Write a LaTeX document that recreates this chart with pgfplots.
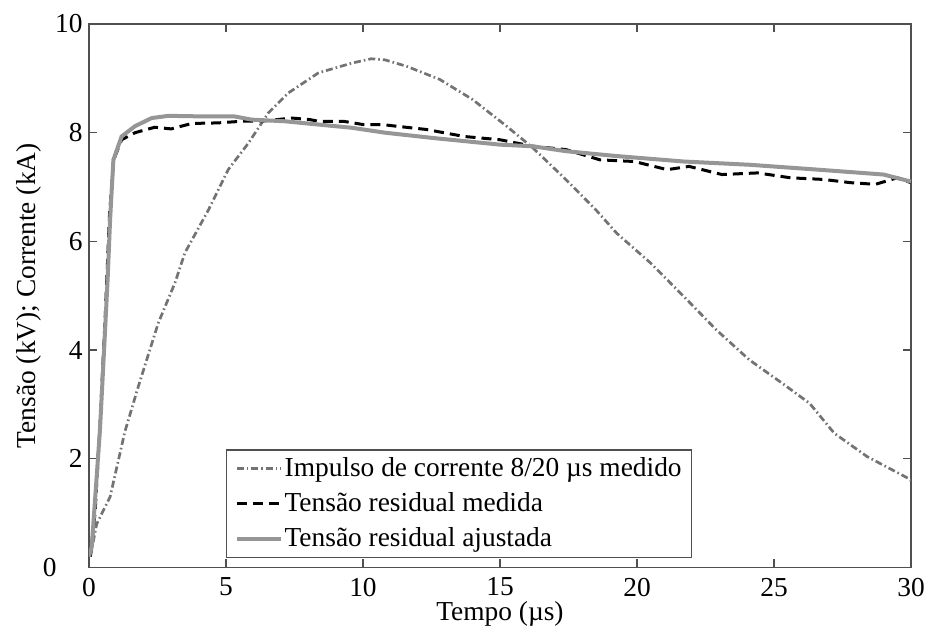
\documentclass[border=0pt]{standalone}
\usepackage{fontspec}
\setmainfont{Liberation Serif}
\usepackage{pgfplots}
\pgfplotsset{compat=1.18}
\definecolor{curgray}{RGB}{115,115,115}
\definecolor{fitgray}{RGB}{150,150,150}
\definecolor{axgray}{RGB}{80,80,80}
\begin{document}
\fontsize{13.7}{16}\selectfont
\begin{tikzpicture}
\begin{axis}[
  name=ax,
  scale only axis,
  width=411pt, height=271.75pt,
  xmin=0, xmax=30, ymin=0, ymax=10,
  xtick={0,5,10,15,20,25,30},
  ytick={2,4,6,8,10},
  extra y ticks={0},
  extra y tick style={yticklabel style={xshift=-13pt}},
  tick align=inside,
  major tick length=4pt,
  axis line style={axgray, line width=0.7pt},
  every tick/.style={axgray, line width=0.6pt},
  /pgf/number format/assume math mode=true,
  tick label style={font=\fontsize{13.7}{16}\selectfont},
  label style={font=\fontsize{13.7}{16}\selectfont},
  xticklabel style={inner sep=1pt, yshift=-4pt},
  yticklabel style={inner sep=1pt, xshift=-2pt},
  xlabel={Tempo (µs)},
  ylabel={Tensão (kV); Corrente (kA)},
  xlabel style={at={(axis description cs:0.5,0)}, anchor=north, yshift=-17pt, inner sep=0pt},
  ylabel style={at={(axis description cs:0,0.5)}, anchor=south, yshift=23.5pt, inner sep=0pt},
  legend cell align=left,
  legend style={
    at={(rel axis cs:0.1667,0.0175)}, anchor=south west,
    draw=axgray, line width=0.6pt, fill=white,
    font=\fontsize{13.7}{16}\selectfont,
    inner xsep=4pt, inner ysep=2.5pt,
    row sep=4pt,
    nodes={inner sep=1pt, anchor=west}
  },
  legend image code/.code={\draw[#1] (0pt,0pt) -- (22pt,0pt);},
]
\addplot[curgray, line width=1.35pt, dash pattern=on 3.5pt off 1.5pt on 0.8pt off 1.5pt]
coordinates {(0.05,0.2) (0.28,0.8) (0.77,1.3) (1.31,2.5) (1.8,3.33) (2.53,4.5) (3.14,5.24) (3.5,5.79) (4.36,6.58) (5.08,7.32) (5.82,7.81) (6.54,8.36) (7.27,8.73) (8.37,9.10) (9.59,9.28) (10.3,9.36) (10.8,9.34) (11.6,9.22) (12.8,8.98) (14.0,8.61) (15.24,8.12) (16.2,7.72) (17.4,7.14) (18.5,6.58) (19.26,6.15) (20.5,5.6) (21.7,4.99) (22.9,4.37) (24.1,3.82) (25.3,3.39) (26.3,3.02) (27.2,2.47) (28.4,2.04) (29.9,1.64) (30,1.6)};
\addlegendentry{Impulso de corrente 8/20 µs medido}
\addplot[black, line width=1.5pt, dash pattern=on 5pt off 3pt]
coordinates {(0.05,0.2) (0.22,1.0) (0.4,2.6) (0.6,4.7) (0.75,6.5) (0.9,7.5) (1.19,7.87) (1.68,8.0) (2.4,8.1) (3.0,8.07) (3.75,8.17) (4.7,8.18) (5.57,8.21) (6.5,8.22) (7.4,8.27) (8.07,8.24) (8.37,8.21) (9.28,8.21) (10.0,8.15) (10.7,8.15) (11.2,8.12) (12.3,8.06) (13.7,7.93) (15.0,7.87) (16.2,7.75) (17.4,7.69) (18.65,7.5) (19.9,7.47) (21.1,7.32) (21.9,7.38) (23.1,7.23) (24.4,7.26) (25.6,7.17) (26.8,7.14) (27.8,7.08) (28.7,7.05) (29.5,7.17) (30,7.08)};
\addlegendentry{Tensão residual medida}
\addplot[fitgray, line width=2pt]
coordinates {(0,0.2) (0.1,0.38) (0.4,2.53) (0.55,4.0) (0.68,5.3) (0.77,6.4) (0.89,7.5) (1.19,7.93) (1.68,8.12) (2.29,8.27) (2.9,8.31) (4.1,8.30) (5.3,8.30) (5.94,8.24) (7.15,8.21) (8.37,8.15) (9.6,8.09) (10.8,8.0) (12.6,7.9) (15.0,7.78) (16.2,7.75) (17.4,7.66) (19.26,7.57) (21.7,7.47) (24.1,7.41) (26.6,7.32) (29.0,7.23) (30,7.1)};
\addlegendentry{Tensão residual ajustada}
\end{axis}
\path ([xshift=-44.5pt,yshift=-28.75pt]ax.south west) rectangle ([xshift=8pt,yshift=12pt]ax.north east);
\end{tikzpicture}
\end{document}
